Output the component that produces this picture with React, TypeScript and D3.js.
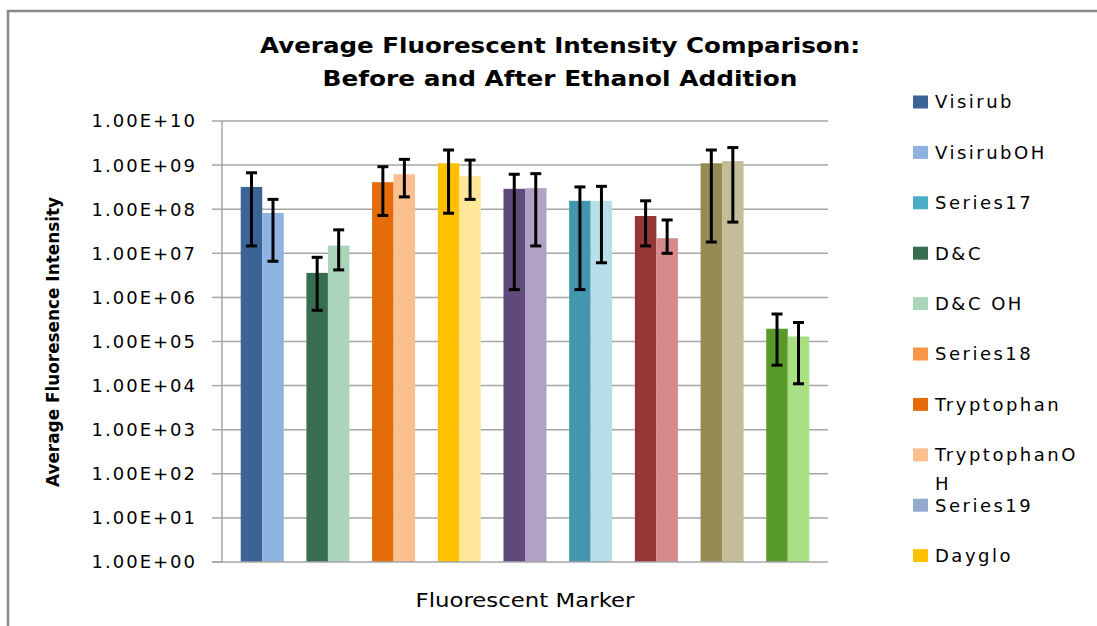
import React from "react";
import * as d3 from "d3";

const categories = ["Visirub", "D&C", "Tryptophan", "Dayglo", "Marker5", "Marker6", "Marker7", "Marker8", "Marker9"];
const beforeValues = [3.2e8, 3.6e6, 4.1e8, 1.1e9, 2.9e8, 1.55e8, 7.0e7, 1.1e9, 1.95e5];
const afterValues = [8.2e7, 1.49e7, 6.2e8, 5.6e8, 3.0e8, 1.55e8, 2.2e7, 1.23e9, 1.3e5];
const beforeErrHigh = [6.7e8, 8.1e6, 9.2e8, 2.2e9, 6.2e8, 3.2e8, 1.55e8, 2.2e9, 4.2e5];
const beforeErrLow = [1.47e7, 5.1e5, 7.2e7, 8.1e7, 1.5e6, 1.5e6, 1.47e7, 1.8e7, 2.9e4];
const afterErrHigh = [1.67e8, 3.4e7, 1.35e9, 1.3e9, 6.4e8, 3.3e8, 5.7e7, 2.5e9, 2.7e5];
const afterErrLow = [6.6e6, 4.2e6, 1.9e8, 1.67e8, 1.47e7, 6.1e6, 1.0e7, 5.1e7, 1.1e4];
const beforeColors = ["#3C6395", "#376E4F", "#E46C0A", "#FFC000", "#604A7B", "#4297AF", "#953735", "#948A54", "#589A29"];
const afterColors = ["#8FB3E1", "#AAD5BB", "#FAC090", "#FFE699", "#B2A1C7", "#B8DFE9", "#D8898A", "#C4BD97", "#A9DF83"];
const yTicks = [1, 1e1, 1e2, 1e3, 1e4, 1e5, 1e6, 1e7, 1e8, 1e9, 1e10];
const legendNames = ["Visirub", "VisirubOH", "Series17", "D&C", "D&C OH", "Series18", "Tryptophan", "TryptophanOH", "Series19", "Dayglo"];
const legendColors = ["#3C6395", "#8FB3E1", "#4BACC6", "#376E4F", "#AAD5BB", "#F79646", "#E46C0A", "#FAC090", "#94A9CF", "#FFC000"];

const fmt = (v: number) => {
  const [m, e] = d3.format(".2e")(v).split("e");
  return m + "E" + e[0] + e.slice(1).padStart(2, "0");
};

export default function App() {
  const W = 1097, H = 626;
  const left = 222, right = 828, top = 121, bottom = 562;
  const y = d3.scaleLog().domain([1, 1e10]).range([bottom, top]);
  const x0 = d3.scaleBand<string>().domain(categories).range([left, right]).paddingInner(0.345).paddingOuter(0.285);
  const x1 = d3.scaleBand<string>().domain(["before", "after"]).range([0, x0.bandwidth()]);
  const font = "'DejaVu Sans', sans-serif";

  const bars: any[] = [];
  categories.forEach((c, i) => {
    const sets = [
      { k: "before", v: beforeValues[i], hi: beforeErrHigh[i], lo: beforeErrLow[i], col: beforeColors[i] },
      { k: "after", v: afterValues[i], hi: afterErrHigh[i], lo: afterErrLow[i], col: afterColors[i] },
    ];
    sets.forEach((s) => {
      const bx = (x0(c) as number) + (x1(s.k) as number);
      const bw = x1.bandwidth();
      const cx = bx + bw / 2;
      bars.push(
        <g key={c + s.k}>
          <rect x={bx} y={y(s.v)} width={bw} height={bottom - y(s.v)} fill={s.col} />
        </g>
      );
    });
  });
  const errs: any[] = [];
  categories.forEach((c, i) => {
    const sets = [
      { k: "before", hi: beforeErrHigh[i], lo: beforeErrLow[i] },
      { k: "after", hi: afterErrHigh[i], lo: afterErrLow[i] },
    ];
    sets.forEach((s) => {
      const cx = (x0(c) as number) + (x1(s.k) as number) + x1.bandwidth() / 2;
      errs.push(
        <g key={"e" + c + s.k} stroke="#000" strokeWidth={3}>
          <line x1={cx} x2={cx} y1={y(s.hi)} y2={y(s.lo)} />
          <line x1={cx - 5.5} x2={cx + 5.5} y1={y(s.hi)} y2={y(s.hi)} />
          <line x1={cx - 5.5} x2={cx + 5.5} y1={y(s.lo)} y2={y(s.lo)} />
        </g>
      );
    });
  });

  return (
    <svg width={W} height={H} style={{ position: "absolute", left: 0, top: 0, background: "#fff" }}>
      <rect x={0} y={0} width={W} height={H} fill="#fff" />
      <path d={`M8,${H + 5} L8,11 L${W + 5},11`} fill="none" stroke="#878787" strokeWidth={2.5} />
      <text x={560} y={53} textAnchor="middle" fontFamily={font} fontWeight="bold" fontSize={22} textLength={600} lengthAdjust="spacingAndGlyphs" fill="#000">
        Average Fluorescent Intensity Comparison:
      </text>
      <text x={560} y={86} textAnchor="middle" fontFamily={font} fontWeight="bold" fontSize={22} textLength={475} lengthAdjust="spacingAndGlyphs" fill="#000">
        Before and After Ethanol Addition
      </text>
      {yTicks.map((t) => (
        <g key={t}>
          {t > 1 && <line x1={left} x2={right} y1={y(t)} y2={y(t)} stroke="#A6A6A6" strokeWidth={1.5} />}
          <line x1={212} x2={left} y1={y(t)} y2={y(t)} stroke="#A6A6A6" strokeWidth={1.5} />
          <text x={197} y={y(t)} dy="0.36em" textAnchor="end" fontFamily={font} fontSize={18} letterSpacing={2} fill="#000">
            {fmt(t)}
          </text>
        </g>
      ))}
      {bars}
      <line x1={left} x2={left} y1={top} y2={bottom} stroke="#A6A6A6" strokeWidth={1.5} />
      <line x1={212} x2={right} y1={bottom} y2={bottom} stroke="#A6A6A6" strokeWidth={1.5} />
      {errs}
      <text transform={`translate(59,342) rotate(-90)`} textAnchor="middle" fontFamily={font} fontWeight="bold" fontSize={17} textLength={290} lengthAdjust="spacingAndGlyphs" fill="#000">
        Average Fluoresence Intensity
      </text>
      <text x={525} y={607} textAnchor="middle" fontFamily={font} fontSize={19} textLength={219} lengthAdjust="spacingAndGlyphs" fill="#000">
        Fluorescent Marker
      </text>
      {legendNames.map((n, i) => {
        const cy = 102 + i * 50.4;
        const lines = n === "TryptophanOH" ? ["TryptophanO", "H"] : [n];
        return (
          <g key={n}>
            <rect x={913} y={cy - 6.5} width={15} height={13} fill={legendColors[i]} />
            {lines.map((l, j) => (
              <text key={j} x={935} y={cy + j * 29} dy="0.36em" fontFamily={font} fontSize={18} letterSpacing={2.5} fill="#000">
                {l}
              </text>
            ))}
          </g>
        );
      })}
    </svg>
  );
}
